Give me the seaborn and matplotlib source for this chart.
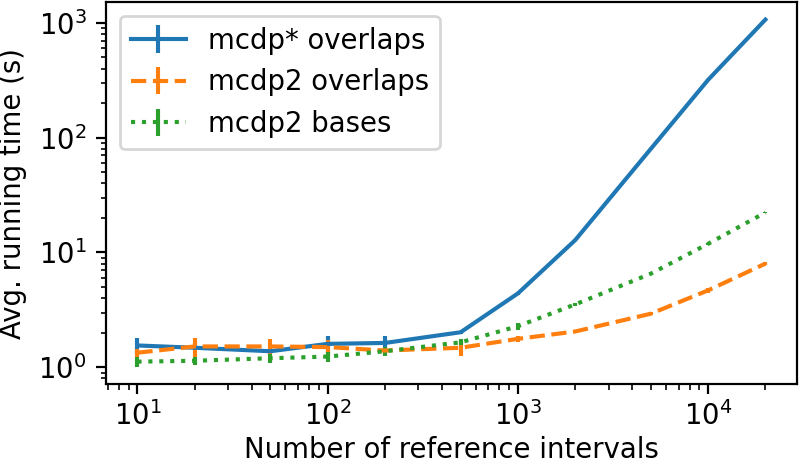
import numpy as np
import seaborn as sns
import matplotlib
matplotlib.use("Agg")
import matplotlib.pyplot as plt

# reference interval counts
n_intervals = [10, 20, 50, 100, 200, 500, 1000, 2000, 5000, 10000, 20000]

# average running times (s)
mcdp_star_overlaps = [1.55, 1.48, 1.38, 1.60, 1.63, 2.02, 4.40, 12.8, 80, 319, 1067]
mcdp2_overlaps = [1.34, 1.52, 1.52, 1.50, 1.40, 1.48, 1.77, 2.05, 2.93, 4.68, 8.0]
mcdp2_bases = [1.12, 1.14, 1.20, 1.24, 1.38, 1.65, 2.28, 3.53, 6.54, 11.9, 22.3]

# error bar half-widths (s)
mcdp_star_err = [0.25, 0.05, 0.05, 0.28, 0.26, 0.06, 0.1, 0.2, 1.0, 3.0, 8.0]
mcdp2_overlaps_err = [0.1, 0.28, 0.26, 0.24, 0.1, 0.22, 0.1, 0.05, 0.1, 0.2, 0.2]
mcdp2_bases_err = [0.11, 0.1, 0.1, 0.12, 0.13, 0.1, 0.15, 0.1, 0.1, 0.2, 0.3]

palette = sns.color_palette("tab10")

# small figure rendered at high dpi -> large fonts and thick lines
dpi = 198
fig, ax = plt.subplots(figsize=(800 / dpi, 464 / dpi), dpi=dpi)

ax.errorbar(n_intervals, mcdp_star_overlaps, yerr=mcdp_star_err,
            color=palette[0], linestyle='-', label='mcdp* overlaps')
ax.errorbar(n_intervals, mcdp2_overlaps, yerr=mcdp2_overlaps_err,
            color=palette[1], linestyle='--', label='mcdp2 overlaps')
ax.errorbar(n_intervals, mcdp2_bases, yerr=mcdp2_bases_err,
            color=palette[2], linestyle=':', label='mcdp2 bases')

ax.set_xscale('log')
ax.set_yscale('log')
ax.tick_params(axis='x', which='major', pad=2.5)
ax.set_xlabel('Number of reference intervals', labelpad=2)
ax.set_ylabel('Avg. running time (s)')
ax.legend(loc='upper left')

plt.subplots_adjust(left=0.1325, right=0.996, top=0.996, bottom=0.172)
plt.savefig('out.png', dpi=dpi)
